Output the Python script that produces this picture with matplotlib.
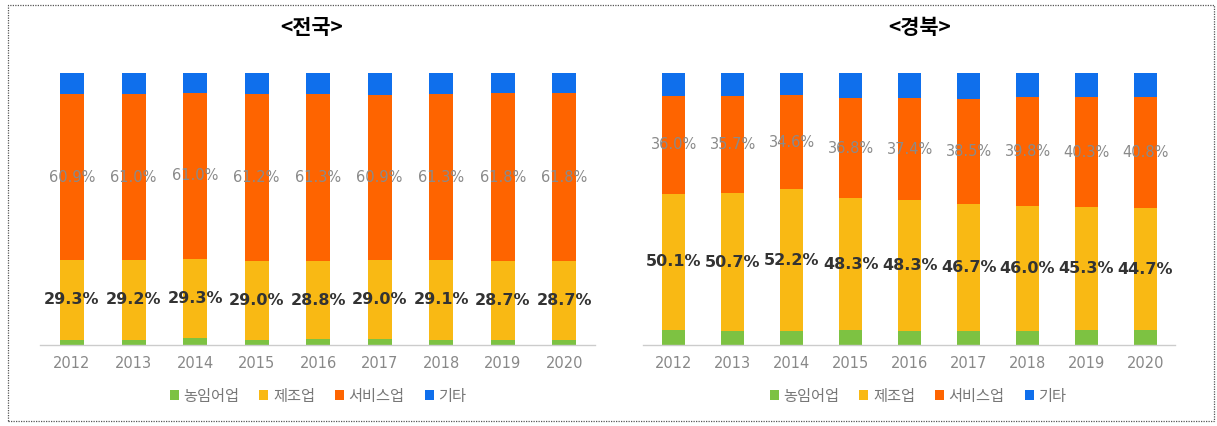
import matplotlib
matplotlib.use("Agg")
import matplotlib.pyplot as plt
from matplotlib.patches import Rectangle
import numpy as np

plt.rcParams['font.family'] = ['Noto Sans CJK KR', 'DejaVu Sans']

years = ['2012', '2013', '2014', '2015', '2016', '2017', '2018', '2019', '2020']
series_names = ['농임어업', '제조업', '서비스업', '기타']
colors = ['#7DC242', '#F9B914', '#FE6400', '#0F6FEC']

# 전국
nat_agri = [2.0, 2.0, 2.4, 2.0, 2.1, 2.1, 2.0, 2.0, 2.0]
nat_manu = [29.3, 29.2, 29.3, 29.0, 28.8, 29.0, 29.1, 28.7, 28.7]
nat_serv = [60.9, 61.0, 61.0, 61.2, 61.3, 60.9, 61.3, 61.8, 61.8]
nat_etc = [7.8, 7.8, 7.3, 7.8, 7.8, 8.0, 7.6, 7.5, 7.5]

# 경북
gb_agri = [5.5, 5.0, 5.0, 5.6, 5.0, 5.3, 5.2, 5.5, 5.5]
gb_manu = [50.1, 50.7, 52.2, 48.3, 48.3, 46.7, 46.0, 45.3, 44.7]
gb_serv = [36.0, 35.7, 34.6, 36.8, 37.4, 38.5, 39.8, 40.3, 40.8]
gb_etc = [8.4, 8.6, 8.2, 9.3, 9.3, 9.5, 9.0, 8.9, 9.0]

W, H = 1217, 426
fig = plt.figure(figsize=(W / 100, H / 100), dpi=100)

# dotted border
fig.patches.append(Rectangle((8 / W, 5 / H), (1214 - 8) / W, (421 - 5) / H,
                             transform=fig.transFigure, fill=False,
                             edgecolor='#555555', linestyle=(0, (1, 1)), linewidth=0.9))


def draw(rect, title, title_x, agri, manu, serv, etc, legend_x):
    ax = fig.add_axes(rect)
    x = np.arange(len(years))
    bw = 0.39
    data = [agri, manu, serv, etc]
    bottom = np.zeros(len(years))
    for vals, c, name in zip(data, colors, series_names):
        ax.bar(x, vals, bw, bottom=bottom, color=c, label=name, linewidth=0)
        bottom = bottom + np.array(vals)
    b_manu = np.array(agri)
    for i in range(len(years)):
        ax.text(x[i], b_manu[i] + manu[i] / 2, f'{manu[i]:.1f}%', ha='center', va='center',
                fontsize=11.5, fontweight='bold', color='#333333', family=['DejaVu Sans'])
        ax.text(x[i], b_manu[i] + manu[i] + serv[i] / 2, f'{serv[i]:.1f}%', ha='center',
                va='center', fontsize=10.5, color='#8a8a8a', family=['DejaVu Sans'])
    ax.set_xlim(-0.52, 8.5)
    ax.set_ylim(0, 100)
    for s in ['top', 'right', 'left']:
        ax.spines[s].set_visible(False)
    ax.spines['bottom'].set_color('#cccccc')
    ax.spines['bottom'].set_linewidth(1.0)
    ax.set_yticks([])
    ax.set_xticks(x)
    ax.set_xticklabels(years, fontsize=10.5, color='#888888', family=['DejaVu Sans'])
    ax.tick_params(axis='x', length=0, pad=8)
    fig.text(title_x, 1 - 28 / H, title, ha='center', va='center', fontsize=15,
             fontweight='bold', color='black')
    leg = fig.legend(*ax.get_legend_handles_labels(), loc='center',
                     bbox_to_anchor=(legend_x, 1 - 396 / H), ncol=4, frameon=False,
                     fontsize=11, handlelength=0.6, handleheight=0.6, handletextpad=0.3,
                     columnspacing=1.3, labelcolor='#777777')
    return ax


draw([40 / W, (H - 345) / H, (595 - 40) / W, (345 - 73) / H], '<전국>', 312 / W,
     nat_agri, nat_manu, nat_serv, nat_etc, 318 / W)
draw([643 / W, (H - 345) / H, (1175 - 643) / W, (345 - 73) / H], '<경북>', 920 / W,
     gb_agri, gb_manu, gb_serv, gb_etc, 918 / W)

fig.savefig('out.png', dpi=100)
